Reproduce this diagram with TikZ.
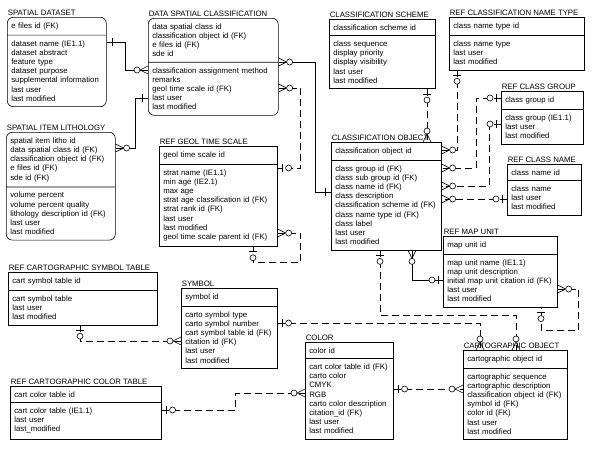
\documentclass[tikz,border=0pt]{standalone}
\usepackage{fontspec}
\setmainfont{Liberation Sans}
\usetikzlibrary{shapes.multipart}
\newcommand{\entfont}{\fontsize{7.8}{9.2}\selectfont}
\tikzset{
  entity/.style={rectangle split, rectangle split parts=2, draw, align=left,
    inner xsep=4pt, inner ysep=5pt, font=\entfont, anchor=north west},
  depent/.style={entity, rounded corners=6pt},
  enttitle/.style={anchor=south west, inner xsep=0.5pt, inner ysep=1.5pt, font=\entfont},
  fk/.style={dash pattern=on 7pt off 4pt},
  one/.pic={\draw[solid] (-5.5,-4) -- (-5.5,4);},
  zone/.pic={\draw[solid] (-5,-4) -- (-5,4);
    \draw[solid,fill=white] (-11,0) circle (3);},
  zmany/.pic={\draw[solid] (-8,0) -- (0,-4) (-8,0) -- (0,4);
    \draw[solid,fill=white] (-11,0) circle (3);},
}
\begin{document}
\begin{tikzpicture}[x=1pt, y=-1pt, line width=0.6pt]
\fill[white] (0,0) rectangle (600,455);

% entities
\node[depent, text width=91pt] (sd) at (7,17)
  {e files id (FK)
   \nodepart{two}dataset name (IE1.1)\\dataset abstract\\feature type\\dataset purpose\\supplemental information\\last user\\last modified};
\node[enttitle] (sd-t) at (sd.north west) {SPATIAL DATASET};

\node[depent, text width=122pt] (dsc) at (148,18)
  {data spatial class id\\classification object id (FK)\\e files id (FK)\\sde id
   \nodepart{two}classification assignment method\\remarks\\geol time scale id (FK)\\last user\\last modified};
\node[enttitle] (dsc-t) at (dsc.north west) {DATA SPATIAL CLASSIFICATION};

\node[entity, text width=98pt] (cs) at (329,19)
  {classification scheme id
   \nodepart{two}class sequence\\display priority\\display visibility\\last user\\last modified};
\node[enttitle] (cs-t) at (cs.north west) {CLASSIFICATION SCHEME};

\node[entity, text width=127pt] (rcnt) at (449,17)
  {class name type id
   \nodepart{two}class name type\\last user\\last modified};
\node[enttitle] (rcnt-t) at (rcnt.north west) {REF CLASSIFICATION NAME TYPE};

\node[entity, text width=74pt] (rcg) at (501,91)
  {class group id
   \nodepart{two}class group (IE1.1)\\last user\\last modified};
\node[enttitle] (rcg-t) at (rcg.north west) {REF CLASS GROUP};

\node[entity, text width=66pt] (rcn) at (507,164)
  {class name id
   \nodepart{two}class name\\last user\\last modified};
\node[enttitle] (rcn-t) at (rcn.north west) {REF CLASS NAME};

\node[depent, text width=101pt] (sil) at (6,132)
  {spatial item litho id\\data spatial class id (FK)\\classification object id (FK)\\e files id (FK)\\sde id (FK)
   \nodepart{two}volume percent\\volume percent quality\\lithology description id (FK)\\last user\\last modified};
\node[enttitle] (sil-t) at (sil.north west) {SPATIAL ITEM LITHOLOGY};

\node[entity, text width=110pt] (gts) at (159,146)
  {geol time scale id
   \nodepart{two}strat name (IE1.1)\\min age (IE2.1)\\max age\\strat age classification id (FK)\\strat rank id (FK)\\last user\\last modified\\geol time scale parent id (FK)};
\node[enttitle] (gts-t) at (gts.north west) {REF GEOL TIME SCALE};

\node[entity, text width=102pt] (co) at (331,142)
  {classification object id
   \nodepart{two}class group id (FK)\\class sub group id (FK)\\class name id (FK)\\class description\\classification scheme id (FK)\\class name type id (FK)\\class label\\last user\\last modified};
\node[enttitle] (co-t) at (co.north west) {CLASSIFICATION OBJECT};

\node[entity, text width=106pt] (rmu) at (443,236)
  {map unit id
   \nodepart{two}map unit name (IE1.1)\\map unit description\\initial map unit citation id (FK)\\last user\\last modified};
\node[enttitle] (rmu-t) at (rmu.north west) {REF MAP UNIT};

\node[entity, text width=141pt] (rcst) at (8,272)
  {cart symbol table id
   \nodepart{two}cart symbol table\\last user\\last modified};
\node[enttitle] (rcst-t) at (rcst.north west) {REF CARTOGRAPHIC SYMBOL TABLE};

\node[entity, text width=88pt] (sym) at (181,288)
  {symbol id
   \nodepart{two}carto symbol type\\carto symbol number\\cart symbol table id (FK)\\citation id (FK)\\last user\\last modified};
\node[enttitle] (sym-t) at (sym.north west) {SYMBOL};

\node[entity, text width=80pt] (col) at (305,342)
  {color id
   \nodepart{two}cart color table id (FK)\\carto color\\CMYK\\RGB\\carto color description\\citation\_id (FK)\\last user\\last modified};
\node[enttitle] (col-t) at (col.north west) {COLOR};

\node[entity, text width=143pt] (rcct) at (10,386)
  {cart color table id
   \nodepart{two}cart color table (IE1.1)\\last user\\last\_modified};
\node[enttitle] (rcct-t) at (rcct.north west) {REF CARTOGRAPHIC COLOR TABLE};

\node[entity, text width=96pt] (cobj) at (463,350)
  {cartographic object id
   \nodepart{two}cartographic sequence\\cartographic description\\classification object id (FK)\\symbol id (FK)\\color id (FK)\\last user\\last modified};
\node[enttitle] (cobj-t) at (cobj.north west) {CARTOGRAPHIC OBJECT};

% relationships
\draw (sd.east |- 0,42) pic[rotate=180]{one} -- ++(19,0) |- (dsc.west |- 0,70) pic{zmany};
\draw (dsc.west |- 0,98) pic{one} -- ++(-13,0) |- (sil.east |- 0,148) pic[rotate=180]{zmany};
\draw (dsc.east |- 0,62) pic[rotate=180]{zmany} -- ++(37,0) |- (co.west |- 0,192) pic{one};
\draw[fk] (dsc.east |- 0,88) pic[rotate=180]{zmany} -- ++(22,0) |- (gts.east |- 0,168) pic[rotate=180]{zone};
\draw[fk] (gts.east |- 0,233) pic[rotate=180]{zmany} -- ++(23,0) -- ++(0,29) -| (gts.south -| 253,0) pic[rotate=90]{zone};
\draw[fk] (cs.south -| 427,0) pic[rotate=90]{zone} -- (co.north -| 427,0) pic[rotate=-90]{zmany};
\draw[fk] (rcnt.south -| 457,0) pic[rotate=90]{zone} |- (co.east |- 0,150) pic[rotate=180]{zmany};
\draw[fk] (rcg.west |- 0,98) pic{zone} -- ++(-25,0) |- (co.east |- 0,168) pic[rotate=180]{zmany};
\draw[fk] (rcg.west |- 0,124) pic{zone} -- ++(-12,0) |- (co.east |- 0,186) pic[rotate=180]{zmany};
\draw[fk] (rcn.west |- 0,199) pic{zone} -- (co.east |- 0,199) pic[rotate=180]{zmany};
\draw[fk] (co.south -| 380,0) pic[rotate=90]{zone} -- ++(0,65) -| (cobj.north -| 516,0) pic[rotate=-90]{zmany};
\draw (co.south -| 412,0) pic[rotate=90]{zmany} |- (rmu.west |- 0,280) pic{zone};
\draw[fk] (rmu.east |- 0,289) pic[rotate=180]{zmany} -- ++(21,0) -- ++(0,41) -| (rmu.south -| 541,0) pic[rotate=90]{zone};
\draw[fk] (sym.east |- 0,323) pic[rotate=180]{zone} -| (cobj.north -| 480,0) pic[rotate=-90]{zmany};
\draw[fk] (rcst.south -| 80,0) pic[rotate=90]{zone} |- (sym.west |- 0,341) pic{zmany};
\draw[fk] (rcct.east |- 0,410) pic[rotate=180]{zone} -- ++(74,0) |- (col.west |- 0,393) pic{zmany};
\draw[fk] (col.east |- 0,389) pic[rotate=180]{zone} -- (cobj.west |- 0,389) pic{zmany};
\end{tikzpicture}
\end{document}
